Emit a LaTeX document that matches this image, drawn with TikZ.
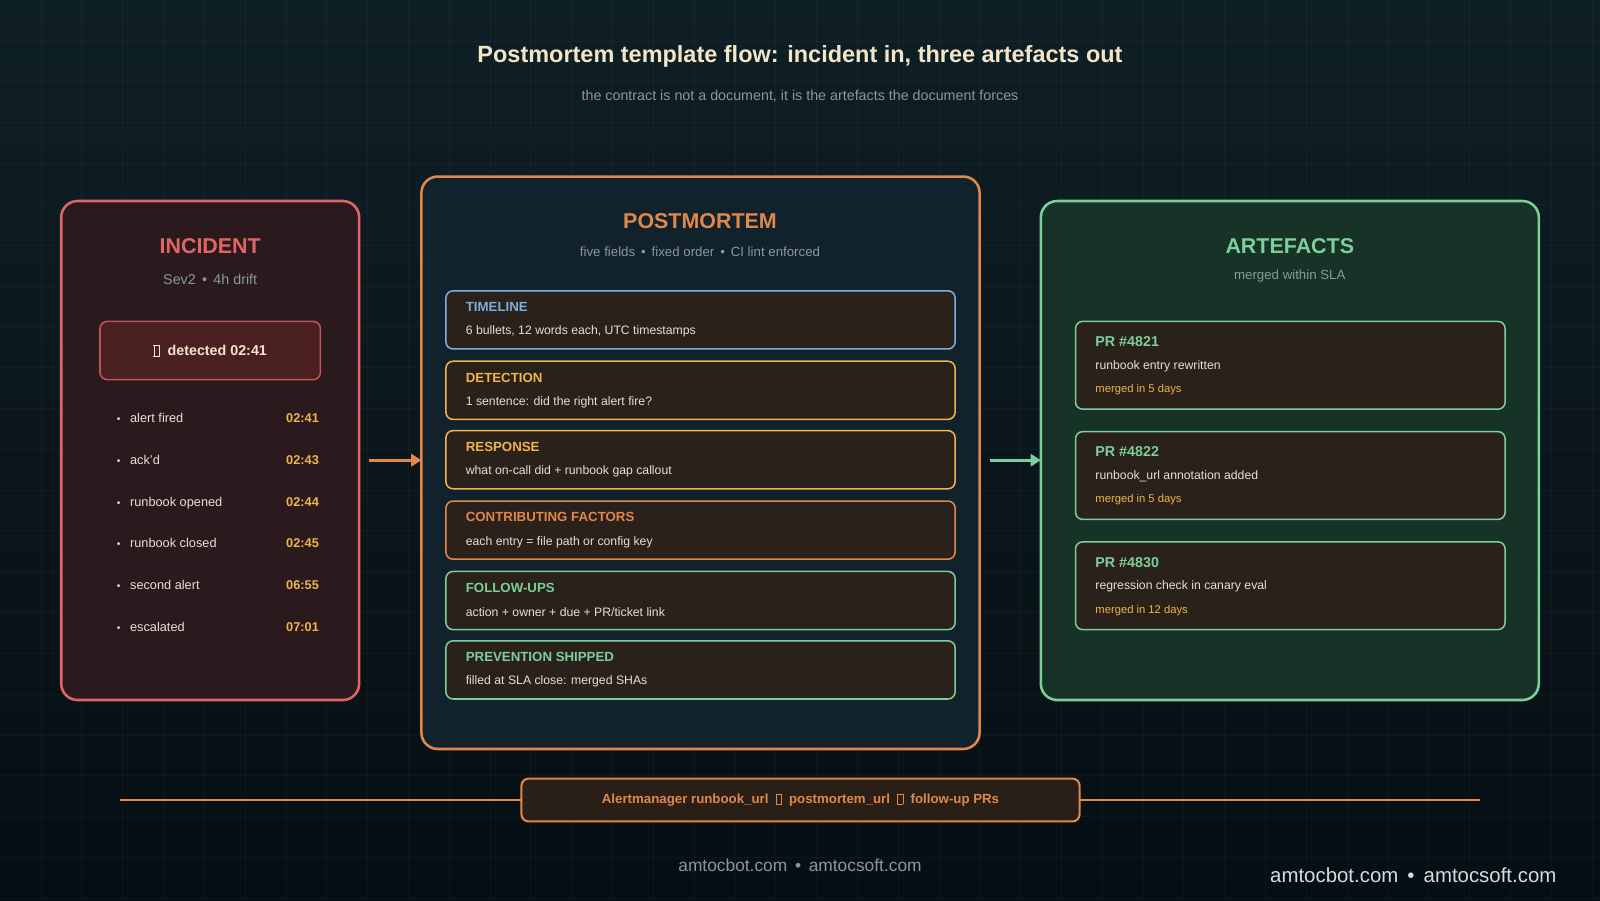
\documentclass[tikz,border=0pt]{standalone}
\usepackage{fontspec}
\setmainfont{Liberation Sans}
\usetikzlibrary{arrows.meta}
\definecolor{bgtop}{HTML}{0F1F26}
\definecolor{bgbot}{HTML}{060E13}
\definecolor{cream}{HTML}{F3E6C8}
\definecolor{txt}{HTML}{E6E0D4}
\definecolor{gry}{HTML}{8A979F}
\definecolor{cred}{HTML}{E06666}
\definecolor{org}{HTML}{E0874A}
\definecolor{yel}{HTML}{F0B44A}
\definecolor{grn}{HTML}{7CCF9A}
\definecolor{blu}{HTML}{7AB0E0}
\definecolor{incbg}{HTML}{2A1A1D}
\definecolor{detbg}{HTML}{4A1F20}
\definecolor{detbd}{HTML}{C05555}
\definecolor{pmbg}{HTML}{11222C}
\definecolor{arbg}{HTML}{173226}
\definecolor{fieldbg}{HTML}{2A211B}
\definecolor{chainbg}{HTML}{2A1F17}
\definecolor{wmc}{HTML}{D7DADE}
\newcommand{\tofu}{{\setlength\fboxsep{0pt}\setlength\fboxrule{0.6pt}\fbox{\rule{0pt}{0.7em}\hspace{0.35em}}}}
\newcommand{\fs}[1]{\fontsize{#1bp}{#1bp}\selectfont}
\begin{document}
\begin{tikzpicture}[x=1bp,y=-1bp,
  panel/.style={draw,line width=2.5bp,rounded corners=16bp},
  field/.style={draw,line width=1.5bp,rounded corners=7bp,fill=fieldbg},
  ftitle/.style={anchor=west,font=\fs{13}\bfseries},
  fdesc/.style={anchor=west,font=\fs{12},text=txt},
  item/.style={anchor=base west,font=\fs{12.5},text=txt},
  time/.style={anchor=base east,font=\fs{12.5}\bfseries,text=yel},
  ptitle/.style={font=\fs{21}\bfseries},
  psub/.style={font=\fs{13},text=gry},
  arr/.style={line width=3bp,-{Triangle[length=10bp,width=12bp]}}]
\shade[top color=bgtop,bottom color=bgbot] (0,0) rectangle (1568,882);
\useasboundingbox (0,0) rectangle (1568,882);
\foreach \x in {40,80,...,1560} \draw[white,opacity=0.03] (\x,0) -- (\x,882);
\foreach \y in {40,80,...,880} \draw[white,opacity=0.03] (0,\y) -- (1568,\y);
% title
\node[font=\fs{23}\bfseries,text=cream] (title) at (784,55) {Postmortem template flow: incident in, three artefacts out};
\node[font=\fs{14},text=gry] (sub) at (784,94) {the contract is not a document, it is the artefacts the document forces};
% incident
\filldraw[panel,draw=cred,fill=incbg] (60,197) rectangle (352,686);
\node[ptitle,text=cred] (inct) at (206,241) {INCIDENT};
\node[font=\fs{14},text=gry] (incs) at (206,274) {Sev2 \,•\, 4h drift};
\node[draw=detbd,line width=1.5bp,rounded corners=7bp,fill=detbg,minimum width=216bp,minimum height=57bp,font=\fs{14}\bfseries,text=cream] (det) at (206,343.5) {\tofu\ \ detected 02:41};
\foreach \l/\t/\y [count=\i] in {alert fired/02:41/414, ack'd/02:43/455, runbook opened/02:44/496, runbook closed/02:45/537, second alert/06:55/578, escalated/07:01/619}{
  \node[item,font=\fs{10}] (b\i) at (111,\y) {•};
  \node[item] (l\i) at (124,\y) {\l};
  \node[time] (t\i) at (316,\y) {\t};
}
% postmortem
\filldraw[panel,draw=org,fill=pmbg] (413,173) rectangle (960,734);
\coordinate (pmW) at (413,451);
\node[ptitle,text=org] (pmt) at (686,217) {POSTMORTEM};
\node[psub] (pms) at (686,247) {five fields \,•\, fixed order \,•\, CI lint enforced};
\foreach \n/\d/\c/\y [count=\i] in {TIMELINE/{6 bullets, 12 words each, UTC timestamps}/blu/285, DETECTION/{1 sentence: did the right alert fire?}/yel/354, RESPONSE/{what on-call did + runbook gap callout}/yel/422, CONTRIBUTING FACTORS/{each entry = file path or config key}/org/491, FOLLOW-UPS/{action + owner + due + PR/ticket link}/grn/560, PREVENTION SHIPPED/{filled at SLA close: merged SHAs}/grn/628}{
  \filldraw[field,draw=\c] (437,\y) rectangle (936,\y+57);
  \node[ftitle,text=\c] (f\i) at (453,\y+16) {\n};
  \node[fdesc] (fd\i) at (453,\y+40) {\d};
}
% artefacts
\filldraw[panel,draw=grn,fill=arbg] (1020,197) rectangle (1508,686);
\coordinate (arW) at (1020,451);
\node[ptitle,text=grn] (art) at (1264,241) {ARTEFACTS};
\node[psub] (ars) at (1264,271) {merged within SLA};
\foreach \n/\d/\m/\y [count=\i] in {PR \#4821/runbook entry rewritten/merged in 5 days/315, PR \#4822/runbook\_url annotation added/merged in 5 days/423, PR \#4830/regression check in canary eval/merged in 12 days/531}{
  \filldraw[field,draw=grn] (1054,\y) rectangle (1475,\y+86);
  \node[ftitle,text=grn,font=\fs{14}\bfseries] (p\i) at (1070,\y+20) {\n};
  \node[fdesc] (pd\i) at (1070,\y+44) {\d};
  \node[fdesc,text=yel,font=\fs{11}] (pm\i) at (1070,\y+67) {\m};
}
% arrows
\coordinate (a1s) at (362,451);
\coordinate (a2s) at (970,451);
\draw[arr,org] (a1s) -- (pmW);
\draw[arr,grn] (a2s) -- (arW);
% bottom bar
\coordinate (ll) at (118,784);
\coordinate (lr) at (1450,784);
\draw[org,line width=2bp] (ll) -- (lr);
\node[draw=org,line width=2bp,rounded corners=7bp,fill=chainbg,minimum width=547bp,minimum height=42bp,text=org,font=\fs{13}\bfseries] (chain) at (784.5,784) {Alertmanager runbook\_url \ \tofu\ \ postmortem\_url \ \tofu\ \ follow-up PRs};
\node[font=\fs{17},text=gry] (foot) at (784,848) {amtocbot.com \,•\, amtocsoft.com};
\node[font=\fs{20},text=wmc] (wm) at (1385,858) {amtocbot.com \,•\, amtocsoft.com};
\end{tikzpicture}
\end{document}
